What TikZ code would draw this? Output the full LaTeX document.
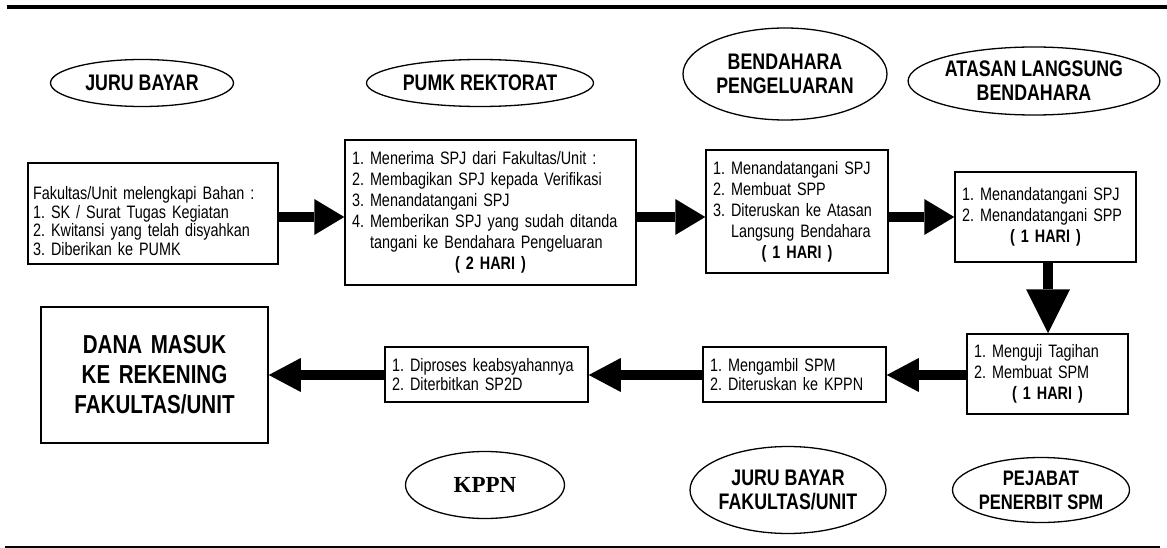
\documentclass[tikz,border=0pt]{standalone}
\usepackage{fontspec}
\setmainfont{Liberation Sans}
\newfontfamily\isifont{Liberation Sans}[FakeStretch=0.8]
\newfontfamily\judulfont{Liberation Sans}[FakeStretch=0.79]
\newfontfamily\kppnfont{Liberation Serif}
\usetikzlibrary{arrows.meta,shapes.geometric,positioning}
\newcommand{\hari}[1]{\makebox[\linewidth]{\bfseries ( #1 HARI )}}
\frenchspacing

\begin{document}
\begin{tikzpicture}[x=1pt,y=-1pt,
    kotak/.style={draw, line width=1.5pt, align=left, inner xsep=7pt, inner ysep=0pt,
      font=\isifont\fontsize{18}{21}\selectfont},
    rapat/.style={font=\isifont\fontsize{18}{18.5}\selectfont},
    peran/.style={draw, ellipse, line width=1.3pt, align=center, inner sep=0pt,
      font=\judulfont\bfseries\fontsize{22.5}{24}\selectfont},
    panah/.style={line width=10pt, -{Triangle[length=30pt,width=36pt,line width=0pt]}},
    panahb/.style={line width=10pt, -{Triangle[length=32pt,width=34pt,line width=0pt]}}]

  \useasboundingbox (0,0) rectangle (1167,548);
  \draw[line width=4pt] (7,7) -- (1167,7);
  \draw[line width=1.5pt] (5,547) -- (1160,547);

  % pelaku
  \node[peran, minimum width=183pt, minimum height=47pt] (jb) at (142,83) {JURU BAYAR};
  \node[peran, minimum width=227pt, minimum height=47pt] (pumk) at (480,83) {PUMK REKTORAT};
  \node[peran, minimum width=204pt, minimum height=92pt] (bp) at (785,74) {BENDAHARA\\PENGELUARAN};
  \node[peran, minimum width=251pt, minimum height=68pt] (alb) at (1034,81) {ATASAN LANGSUNG\\BENDAHARA};
  \node[peran, minimum width=159pt, minimum height=67pt,
        font=\kppnfont\bfseries\fontsize{23}{26}\selectfont] (kppn) at (485,485) {KPPN};
  \node[peran, minimum width=193pt, minimum height=87pt] (jbf) at (788,490) {JURU BAYAR\\FAKULTAS/UNIT};
  \node[peran, minimum width=177pt, minimum height=65pt,
        font=\judulfont\bfseries\fontsize{21}{24}\selectfont] (pps) at (1041,490) {PEJABAT\\PENERBIT SPM};

  % alur
  \node[kotak, rapat, text width=240pt, minimum height=101pt, inner xsep=5pt] (b1) at (153,213.5)
    {\rule{0pt}{28pt}Fakultas/Unit melengkapi Bahan :\\1. SK / Surat Tugas Kegiatan\\
     2. Kwitansi yang telah disyahkan\\3. Diberikan ke PUMK};
  \node[kotak, text width=277pt, minimum height=145pt] (b2) at (490.5,212.5)
    {1. Menerima SPJ dari Fakultas/Unit :\\2. Membagikan SPJ kepada Verifikasi\\
     3. Menandatangani SPJ\\4. Memberikan SPJ yang sudah ditanda\\
     \hphantom{4. }tangani ke Bendahara Pengeluaran\\\hari{2}};
  \node[kotak, text width=168pt, minimum height=123pt] (b3) at (797,211.5)
    {1. Menandatangani SPJ\\2. Membuat SPP\\3. Diteruskan ke Atasan\\
     \hphantom{3. }Langsung Bendahara\\\hari{1}\par\vspace*{5pt}};
  \node[kotak, text width=167pt, minimum height=90pt] (b4) at (1045.5,217)
    {1. Menandatangani SPJ\\2. Menandatangani SPP\\\hari{1}\par\vspace*{8pt}};
  \node[kotak, text width=147pt, minimum height=80pt] (b5) at (1047.5,374)
    {1. Menguji Tagihan\\2. Membuat SPM\\\hari{1}};
  \node[kotak, rapat, text width=169pt, minimum height=55pt] (b6) at (794.5,374.5)
    {1. Mengambil SPM\\2. Diteruskan ke KPPN};
  \node[kotak, rapat, text width=189pt, minimum height=55pt] (b7) at (486.5,374.5)
    {1. Diproses keabsyahannya\\2. Diterbitkan SP2D};
  \node[kotak, align=center, text width=213pt, minimum height=136pt,
        font=\judulfont\bfseries\fontsize{26}{30}\selectfont] (b8) at (154.5,375)
    {DANA MASUK\\KE REKENING\\FAKULTAS/UNIT};

  \coordinate (r1) at (0,217);
  \coordinate (r2) at (0,375);
  \coordinate (k1) at (1048,0);

  \draw[panah] (b1.east |- r1) -- (b2.west |- r1);
  \draw[panah] (b2.east |- r1) -- (b3.west |- r1);
  \draw[panah] (b3.east |- r1) -- (b4.west |- r1);
  \draw[line width=10pt, -{Triangle[length=44pt,width=44pt,line width=0pt]}]
    (b4.south -| k1) -- (b5.north -| k1);
  \draw[panahb] (b5.west |- r2) -- (b6.east |- r2);
  \draw[panahb] (b6.west |- r2) -- (b7.east |- r2);
  \draw[panahb] (b7.west |- r2) -- (b8.east |- r2);
\end{tikzpicture}
\end{document}
